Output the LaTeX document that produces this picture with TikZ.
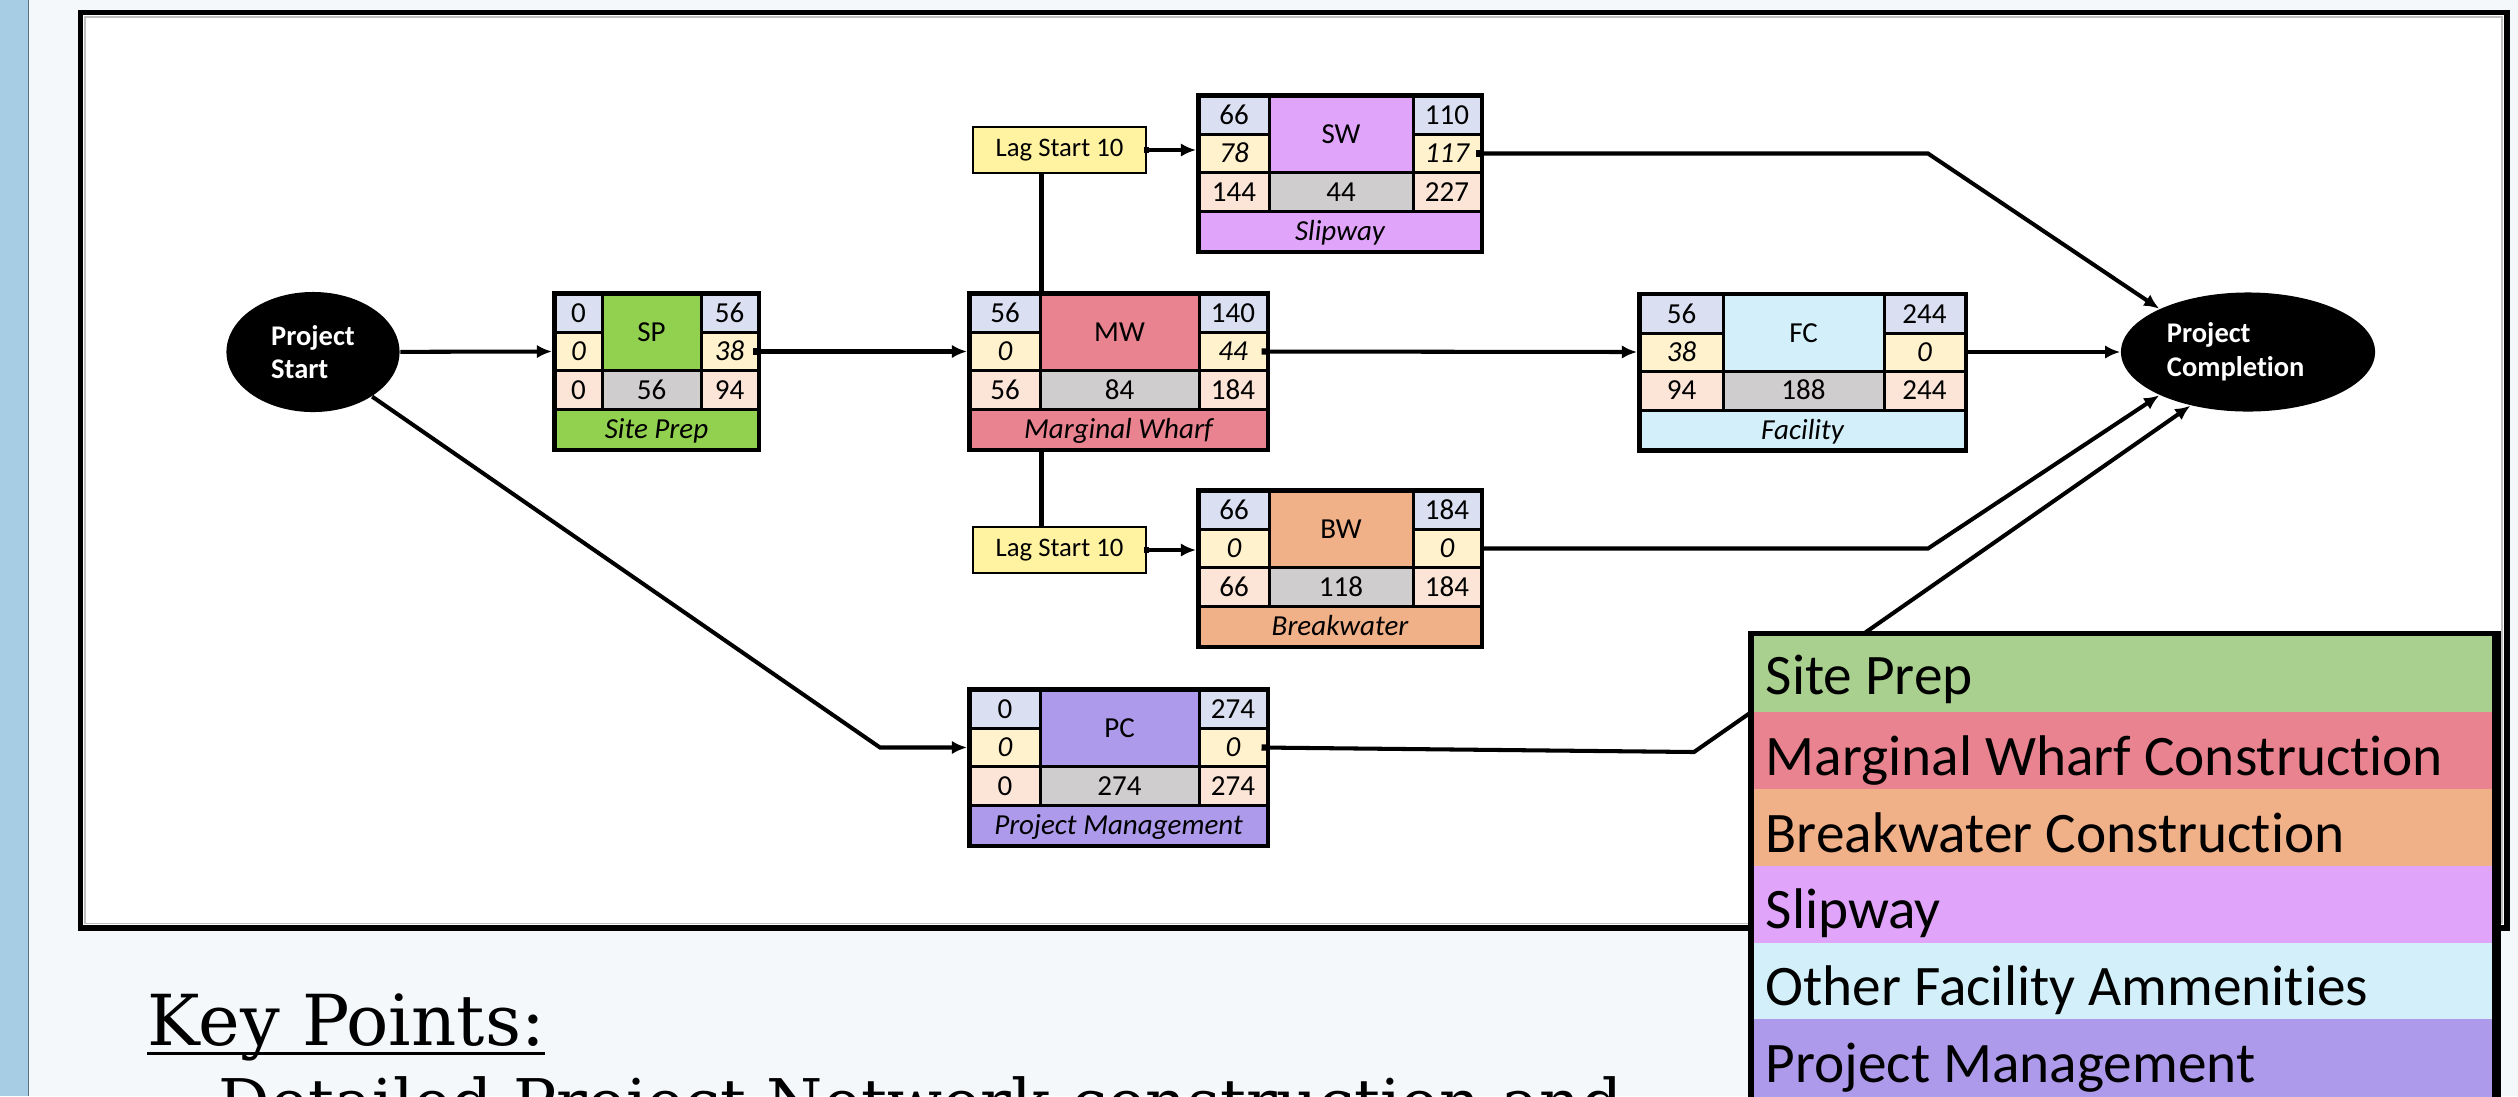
\documentclass[tikz,border=0pt]{standalone}
\usepackage{fontspec}
\newfontfamily\calfont[Ligatures=NoCommon]{Carlito}
\newfontfamily\kpfont{DejaVu Serif}
\usetikzlibrary{shapes.geometric,arrows.meta}
\definecolor{bgc}{HTML}{F4F8FB}
\definecolor{strip}{HTML}{A6CDE3}
\definecolor{esc}{HTML}{DAE0F2}
\definecolor{slk}{HTML}{FFF2CC}
\definecolor{lsc}{HTML}{FCE4D6}
\definecolor{durc}{HTML}{CFCDCD}
\definecolor{spc}{HTML}{92D050}
\definecolor{mwc}{HTML}{E9838F}
\definecolor{swc}{HTML}{E0A4FA}
\definecolor{bwc}{HTML}{F0B088}
\definecolor{fcc}{HTML}{D3F0FA}
\definecolor{pcc}{HTML}{AD9AEA}
\definecolor{legsp}{HTML}{A9D08E}
\definecolor{lagc}{HTML}{FFF2A1}
\tikzset{
 numtxt/.style={inner sep=0pt, font=\calfont\fontsize{8.25}{10}\selectfont, text height=5.3pt, text depth=0pt},
 itxt/.style={numtxt, font=\calfont\itshape\fontsize{8.25}{10}\selectfont},
 conn/.style={line width=1.15pt, -{Latex[length=4.3pt,width=3.8pt]}},
 knobconn/.style={line width=1.15pt, {Square[length=1.4pt,width=1.8pt]}-{Latex[length=4.3pt,width=3.8pt]}},
 plainline/.style={line width=1.15pt},
 lagbox/.style={draw, line width=0.55pt, fill=lagc, minimum width=1.73cm, minimum height=0.46cm, inner sep=0pt, font=\calfont\fontsize{7.6}{9}\selectfont},
 evnode/.style={ellipse, fill=black, inner sep=0pt, text=white, align=left, font=\calfont\bfseries\fontsize{8.1}{9.6}\selectfont},
 legtxt/.style={anchor=base west, inner sep=0pt, font=\calfont\fontsize{16.3}{19}\selectfont},
}
\newcommand\actbox[9]{%
 \pgfmathsetmacro\bxA{#2+4.5}%
 \pgfmathsetmacro\bxB{\bxA+#4}%
 \pgfmathsetmacro\bxC{\bxB+3}%
 \pgfmathsetmacro\bxD{\bxC+#5}%
 \pgfmathsetmacro\bxE{\bxD+3}%
 \pgfmathsetmacro\bxF{\bxE+#6}%
 \pgfmathsetmacro\bxG{\bxF+4.5}%
 \pgfmathsetmacro\bxL{(\bxA+\bxB)/2}%
 \pgfmathsetmacro\bxM{(\bxC+\bxD)/2}%
 \pgfmathsetmacro\bxR{(\bxE+\bxF)/2}%
 \pgfmathsetmacro\bxW{(\bxA+\bxF)/2}%
 \fill[black] (#2,#3) rectangle (\bxG,#3+161);
 \fill[esc] (\bxA,#3+4.5) rectangle (\bxB,#3+40);
 \fill[esc] (\bxE,#3+4.5) rectangle (\bxF,#3+40);
 \fill[slk] (\bxA,#3+43) rectangle (\bxB,#3+78);
 \fill[slk] (\bxE,#3+43) rectangle (\bxF,#3+78);
 \fill[lsc] (\bxA,#3+81) rectangle (\bxB,#3+117);
 \fill[lsc] (\bxE,#3+81) rectangle (\bxF,#3+117);
 \fill[#7] (\bxC,#3+4.5) rectangle (\bxD,#3+78);
 \fill[durc] (\bxC,#3+81) rectangle (\bxD,#3+117);
 \fill[#7] (\bxA,#3+120) rectangle (\bxF,#3+156.5);
 \node[numtxt] (#1-code) at (\bxM,#3+41.25) {#8};
 \node[itxt] (#1-lab) at (\bxW,#3+138.25) {#9};
 \coordinate (#1-tl) at (\bxL,#3+22.25);
 \coordinate (#1-ml) at (\bxL,#3+60.5);
 \coordinate (#1-bl) at (\bxL,#3+99);
 \coordinate (#1-tr) at (\bxR,#3+22.25);
 \coordinate (#1-mr) at (\bxR,#3+60.5);
 \coordinate (#1-br) at (\bxR,#3+99);
 \coordinate (#1-dur) at (\bxM,#3+99);
 \coordinate (#1-in) at (#2,#3+60.5);
 \coordinate (#1-out) at (\bxG,#3+60.5);
 \coordinate (#1-knob) at (\bxF-4,#3+60.5);
 \coordinate (#1-top) at (\bxC,#3);
 \coordinate (#1-bot) at (\bxC,#3+161);
}
\newcommand\actnums[8]{%
 \node[numtxt] (#1-tln) at (#1-tl) {#2};
 \node[itxt] (#1-mln) at (#1-ml) {#3};
 \node[numtxt] (#1-bln) at (#1-bl) {#4};
 \node[numtxt] (#1-durn) at (#1-dur) {#5};
 \node[numtxt] (#1-trn) at (#1-tr) {#6};
 \node[itxt] (#1-mrn) at (#1-mr) {#7};
 \node[numtxt] (#1-brn) at (#1-br) {#8};
}
\begin{document}
\begin{tikzpicture}[x=0.01cm, y=-0.01cm]
\useasboundingbox (0,0) rectangle (2518,1096);
\clip (0,0) rectangle (2518,1096);
% background
\fill[bgc] (0,0) rectangle (2518,1096);
\fill[strip] (0,0) rectangle (28,1096);
\draw[line width=0.4pt, strip!55!black] (28.5,0) -- (28.5,1096);
% frame
\draw[line width=1.7pt, fill=white] (80.5,12.5) rectangle (2506.5,927.7);
\draw[line width=0.5pt, black!25] (84.8,16.8) rectangle (2502.2,923.4);
% activity boxes
\actbox{SP}{552}{291}{44}{96}{54}{spc}{SP}{Site Prep}
\actnums{SP}{0}{0}{0}{56}{56}{38}{94}
\actbox{MW}{967}{291}{67}{156}{65}{mwc}{MW}{Marginal Wharf}
\actnums{MW}{56}{0}{56}{84}{140}{44}{184}
\actbox{SW}{1196}{93}{67}{141}{65}{swc}{SW}{Slipway}
\actnums{SW}{66}{78}{144}{44}{110}{117}{227}
\actbox{BW}{1196}{488}{67}{141}{65}{bwc}{BW}{Breakwater}
\actnums{BW}{66}{0}{66}{118}{184}{0}{184}
\actbox{FC}{1637}{291.5}{80}{158}{78}{fcc}{FC}{Facility}
\actnums{FC}{56}{38}{94}{188}{244}{0}{244}
\actbox{PC}{967}{687}{67}{156}{65}{pcc}{PC}{Project Management}
\actnums{PC}{0}{0}{0}{274}{274}{0}{274}
% lag boxes
\node[lagbox] (lag1) at (1059.5,150) {Lag Start 10};
\node[lagbox] (lag2) at (1059.5,550) {Lag Start 10};
% events
\node[evnode, minimum width=1.73cm, minimum height=1.2cm] (S) at (313,352) {Project\\Start};
\node[evnode, minimum width=2.54cm, minimum height=1.19cm] (E) at (2248,352) {Project\\Completion\hspace*{7pt}};
% elbows
\coordinate (e1) at (1928,153.5);
\coordinate (e2) at (1928,548.5);
\coordinate (e3) at (880,747.5);
\coordinate (e4) at (1694,752);
% connectors
\draw[conn] (S) -- (SP-in);
\draw[knobconn] (SP-knob) -- (MW-in);
\draw[knobconn] (MW-knob) -- (FC-in);
\draw[conn] (FC-out) -- (E.west |- FC-out);
\draw[plainline] (lag1.south -| MW-top) -- (MW-top);
\draw[plainline] (MW-bot) -- (lag2.north -| MW-bot);
\draw[knobconn] ([xshift=-0.03cm]lag1.east) -- (lag1.east -| SW-in);
\draw[knobconn] ([xshift=-0.03cm]lag2.east) -- (lag2.east -| BW-in);
\draw[knobconn] (SW-knob) -- (e1) -- (E.154);
\draw[conn] (BW-out) -- (e2) -- (E.206);
\draw[conn] (S.-37) -- (e3) -- (PC-in);
\draw[knobconn] (PC-knob) -- (e4) -- (E.223);
% legend
\fill[black] (1748,631) rectangle (2501,1120);
\fill[legsp] (1754,635.5) rectangle (2492,712);
\fill[mwc] (1754,712) rectangle (2492,789);
\fill[bwc] (1754,789) rectangle (2492,866);
\fill[swc] (1754,866) rectangle (2492,943);
\fill[fcc] (1754,943) rectangle (2492,1019);
\fill[pcc] (1754,1019) rectangle (2492,1120);
\node[legtxt] (leg1) at (1765,694) {Site Prep};
\node[legtxt] (leg2) at (1765,775) {Marginal Wharf Construction};
\node[legtxt] (leg3) at (1765,852) {Breakwater Construction};
\node[legtxt] (leg4) at (1765,928) {Slipway};
\node[legtxt] (leg5) at (1765,1005) {Other Facility Ammenities};
\node[legtxt] (leg6) at (1765,1082) {Project Management};
% key points
\node[anchor=base west, inner sep=0pt, font=\kpfont\fontsize{20}{24}\selectfont] (kp) at (147,1045) {Key Points:};
\draw[line width=0.85pt] ([yshift=-0.08cm]kp.base west) -- ([yshift=-0.08cm]kp.base east);
\node[anchor=base west, inner sep=0pt, font=\kpfont\fontsize{18.3}{22}\selectfont] (kp2) at (218,1125) {Detailed Project Network construction and};
\end{tikzpicture}
\end{document}
